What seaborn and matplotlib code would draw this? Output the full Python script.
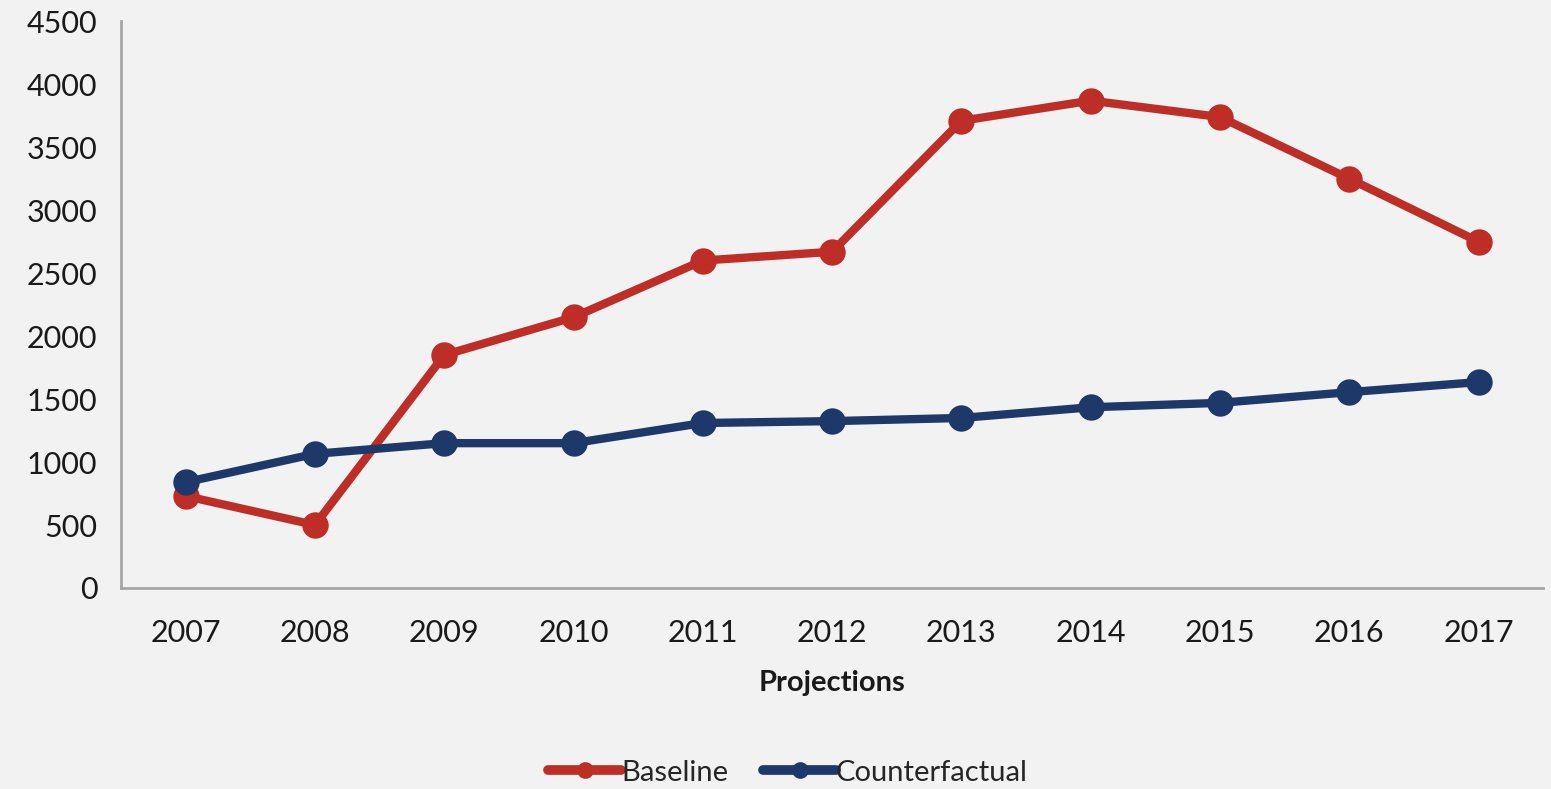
import matplotlib
matplotlib.use("Agg")
import matplotlib.pyplot as plt
import seaborn as sns
import pandas as pd

years = ["2007", "2008", "2009", "2010", "2011", "2012", "2013", "2014", "2015", "2016", "2017"]
baseline = [730, 500, 1850, 2150, 2600, 2670, 3710, 3870, 3740, 3250, 2750]
counterfactual = [840, 1065, 1150, 1150, 1310, 1325, 1350, 1435, 1470, 1555, 1635]
series_names = ["Baseline", "Counterfactual"]
colors = ["#be2d26", "#1e3869"]
y_ticks = [0, 500, 1000, 1500, 2000, 2500, 3000, 3500, 4000, 4500]

df = pd.DataFrame({
    "year": years * 2,
    "value": baseline + counterfactual,
    "series": [series_names[0]] * len(years) + [series_names[1]] * len(years),
})

sns.set_style("white")
bg = "#f2f2f2"
plt.rcParams["font.family"] = ["Lato", "DejaVu Sans"]

fig = plt.figure(figsize=(15.51, 7.89), dpi=100, facecolor=bg)
ax = fig.add_axes([0.078, 0.2548, 0.917, 0.7182])
ax.set_facecolor(bg)

sns.lineplot(data=df, x="year", y="value", hue="series", palette=colors,
             marker="o", markersize=19, markeredgewidth=0, linewidth=6,
             sort=False, ax=ax)

ax.set_xlim(-0.5, len(years) - 0.5)
ax.set_ylim(0, 4500)
ax.set_yticks(y_ticks)
ax.set_yticklabels([str(t) for t in y_ticks])
ax.tick_params(axis="y", length=9, width=1.5, color="#a6a6a6", labelsize=22,
               labelcolor="#1a1a1a", pad=8)
ax.tick_params(axis="x", length=0, labelsize=22, labelcolor="#1a1a1a", pad=22)

for side in ["top", "right"]:
    ax.spines[side].set_visible(False)
for side in ["left", "bottom"]:
    ax.spines[side].set_color("#a6a6a6")
    ax.spines[side].set_linewidth(2)

ax.set_ylabel("")
ax.set_xlabel("Projections", fontsize=21, fontweight="bold", color="#1a1a1a", labelpad=17)

handles, labels = ax.get_legend_handles_labels()
leg = ax.legend(handles, labels, loc="lower center", bbox_to_anchor=(0.469, -0.395),
                ncol=2, frameon=False, fontsize=21, handlelength=2.5,
                handletextpad=0.0, columnspacing=1.2)
for h in leg.legend_handles:
    h.set_markersize(12)
    h.set_linewidth(7)

fig.savefig("out.png", dpi=100, facecolor=bg)
